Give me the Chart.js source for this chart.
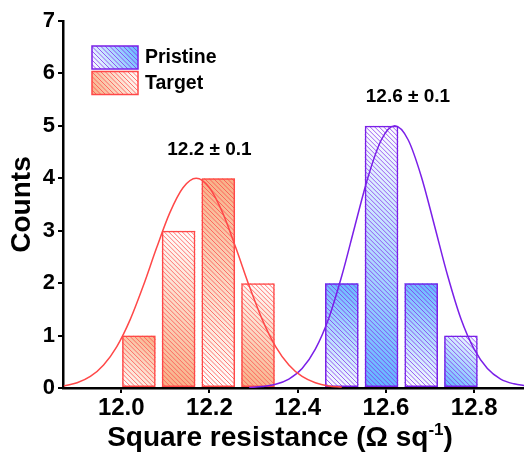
<!DOCTYPE html>
<html>
<head>
<meta charset="utf-8">
<script src="https://cdn.jsdelivr.net/npm/chart.js@4.4.0/dist/chart.umd.min.js"></script>
<style>
  html, body { margin: 0; padding: 0; background: #fff; }
  #wrap { width: 524px; height: 454px; }
</style>
</head>
<body>
<div id="wrap"><canvas id="histChart" width="524" height="454"></canvas></div>
<script>
// histogram bins (centres) and counts
const targetBins = [12.04, 12.13, 12.22, 12.31];
const targetCounts = [1, 3, 4, 2];
const pristineBins = [12.50, 12.59, 12.68, 12.77];
const pristineCounts = [2, 5, 2, 1];

// fitted curves
const targetFitX = [11.87, 11.90, 11.93, 11.96, 11.99, 12.02, 12.05, 12.08, 12.11, 12.14, 12.17, 12.20,
  12.23, 12.26, 12.29, 12.32, 12.35, 12.38, 12.41, 12.44, 12.47, 12.50];
const targetFitY = [0.04, 0.10, 0.22, 0.44, 0.79, 1.30, 1.95, 2.67, 3.34, 3.82, 4.00, 3.82,
  3.34, 2.67, 1.95, 1.30, 0.79, 0.44, 0.22, 0.10, 0.04, 0.02];
const pristineFitX = [12.29, 12.32, 12.35, 12.38, 12.41, 12.44, 12.47, 12.50, 12.53, 12.56, 12.59, 12.62,
  12.65, 12.68, 12.71, 12.74, 12.77, 12.80, 12.83, 12.86, 12.89, 12.92];
const pristineFitY = [0.01, 0.03, 0.07, 0.17, 0.37, 0.74, 1.32, 2.14, 3.10, 4.04, 4.74, 5.00,
  4.74, 4.04, 3.10, 2.14, 1.32, 0.74, 0.37, 0.17, 0.08, 0.04];

const xTicks = [12.0, 12.2, 12.4, 12.6, 12.8];
const yTicks = [0, 1, 2, 3, 4, 5, 6, 7];

const seriesNames = ['Pristine', 'Target'];
const fitLabels = ['12.2 \u00b1 0.1', '12.6 \u00b1 0.1'];

const FONT = "'Liberation Sans', Arial, sans-serif";
const RED = '#ff4848';
const PURPLE = '#7a1fe8';

const targetShade = { tint: '#f7b086', hatch: 'rgba(255,72,72,0.75)' };
const pristineShade = { tint: '#62b6ff', hatch: 'rgba(128,40,236,0.75)' };

// gradient + diagonal hatching inside a rectangle
function paintHatched(ctx, left, top, w, h, shade, tintTop) {
  ctx.save();
  ctx.beginPath();
  ctx.rect(left, top, w, h);
  ctx.clip();
  const g = ctx.createLinearGradient(left + w, top, left, top + h);
  if (tintTop) {
    g.addColorStop(0, shade.tint);
    g.addColorStop(1, '#ffffff');
  } else {
    g.addColorStop(0, '#ffffff');
    g.addColorStop(1, shade.tint);
  }
  ctx.fillStyle = g;
  ctx.fillRect(left, top, w, h);
  ctx.strokeStyle = shade.hatch;
  ctx.lineWidth = 1;
  ctx.beginPath();
  for (let k = -h; k < w + h; k += 4.5) {
    ctx.moveTo(left + k, top);
    ctx.lineTo(left + k + h, top + h);
  }
  ctx.stroke();
  ctx.restore();
}

const barFill = {
  id: 'barFill',
  beforeDatasetDraw(chart, args) {
    const ds = chart.data.datasets[args.index];
    if (!ds.shade) return;
    args.meta.data.forEach((bar, i) => {
      const p = bar.getProps(['x', 'y', 'base', 'width'], true);
      paintHatched(chart.ctx, p.x - p.width / 2, p.y, p.width, p.base - p.y, ds.shade, i % 2 === 0);
    });
  }
};

const extras = {
  id: 'extras',
  afterDraw(chart) {
    const ctx = chart.ctx;
    const area = chart.chartArea;
    const xs = chart.scales.x, ys = chart.scales.y;
    ctx.save();

    // legend
    const items = [
      { name: seriesNames[0], shade: pristineShade, border: PURPLE, tintTop: true },
      { name: seriesNames[1], shade: targetShade, border: RED, tintTop: false }
    ];
    items.forEach((it, i) => {
      const bx = area.left + 29, by = area.top + 25 + i * 25.5;
      paintHatched(ctx, bx, by, 46, 23, it.shade, it.tintTop);
      ctx.strokeStyle = it.border;
      ctx.lineWidth = 1.5;
      ctx.strokeRect(bx, by, 46, 23);
      ctx.fillStyle = '#000';
      ctx.font = 'bold 19.5px ' + FONT;
      ctx.textAlign = 'left';
      ctx.textBaseline = 'middle';
      ctx.fillText(it.name, bx + 53, by + 12);
    });

    // fit annotations
    ctx.font = 'bold 19px ' + FONT;
    ctx.textAlign = 'center';
    ctx.textBaseline = 'middle';
    ctx.fillText(fitLabels[0], xs.getPixelForValue(12.2), ys.getPixelForValue(4.54));
    ctx.fillText(fitLabels[1], xs.getPixelForValue(12.65), ys.getPixelForValue(5.55));

    // y title
    ctx.save();
    ctx.translate(22, (area.top + area.bottom) / 2);
    ctx.rotate(-Math.PI / 2);
    ctx.font = 'bold 28px ' + FONT;
    ctx.fillText('Counts', 0, 0);
    ctx.restore();

    // x title with superscript
    const main = 'Square resistance (\u03a9 sq';
    const sup = '-1';
    const close = ')';
    ctx.font = 'bold 28px ' + FONT;
    const w1 = ctx.measureText(main).width;
    const w3 = ctx.measureText(close).width;
    ctx.font = 'bold 17px ' + FONT;
    const w2 = ctx.measureText(sup).width;
    const total = w1 + w2 + w3;
    let tx = 280 - total / 2;
    const base = 446;
    ctx.textAlign = 'left';
    ctx.textBaseline = 'alphabetic';
    ctx.font = 'bold 28px ' + FONT;
    ctx.fillText(main, tx, base);
    tx += w1;
    ctx.font = 'bold 17px ' + FONT;
    ctx.fillText(sup, tx, base - 11);
    tx += w2;
    ctx.font = 'bold 28px ' + FONT;
    ctx.fillText(close, tx, base);
    ctx.restore();
  }
};

const toXY = (xs, ys) => xs.map((x, i) => ({ x: x, y: ys[i] }));

new Chart(document.getElementById('histChart'), {
  type: 'bar',
  data: {
    datasets: [
      {
        type: 'line',
        data: toXY(targetFitX, targetFitY),
        borderColor: RED,
        borderWidth: 1.5,
        pointRadius: 0,
        cubicInterpolationMode: 'monotone',
        fill: false,
        order: 0
      },
      {
        type: 'line',
        data: toXY(pristineFitX, pristineFitY),
        borderColor: PURPLE,
        borderWidth: 1.5,
        pointRadius: 0,
        cubicInterpolationMode: 'monotone',
        fill: false,
        order: 0
      },
      {
        type: 'bar',
        label: seriesNames[1],
        data: toXY(targetBins, targetCounts),
        backgroundColor: 'rgba(0,0,0,0)',
        borderColor: RED,
        borderWidth: 1.5,
        borderSkipped: false,
        grouped: false,
        barPercentage: 0.845,
        categoryPercentage: 1,
        shade: targetShade,
        order: 1
      },
      {
        type: 'bar',
        label: seriesNames[0],
        data: toXY(pristineBins, pristineCounts),
        backgroundColor: 'rgba(0,0,0,0)',
        borderColor: PURPLE,
        borderWidth: 1.5,
        borderSkipped: false,
        grouped: false,
        barPercentage: 0.845,
        categoryPercentage: 1,
        shade: pristineShade,
        order: 1
      }
    ]
  },
  options: {
    responsive: false,
    animation: false,
    devicePixelRatio: 1,
    layout: { padding: { top: 21, left: 0, right: 0, bottom: 0 } },
    plugins: {
      legend: { display: false },
      tooltip: { enabled: false }
    },
    scales: {
      x: {
        type: 'linear',
        min: 11.868,
        max: 12.913,
        offset: false,
        z: 1,
        afterBuildTicks: s => { s.ticks = xTicks.map(v => ({ value: v })); },
        afterFit: s => { s.height = 66; },
        ticks: {
          autoSkip: false,
          maxRotation: 0,
          includeBounds: false,
          padding: 1,
          color: '#000',
          font: { family: FONT, size: 24, weight: 'bold' },
          callback: v => Number(v).toFixed(1)
        },
        grid: { offset: false, drawOnChartArea: false, drawTicks: true, tickLength: 5, color: '#000', lineWidth: 2 },
        border: { display: true, color: '#000', width: 2.5 }
      },
      y: {
        min: 0,
        max: 7,
        z: 1,
        afterBuildTicks: s => { s.ticks = yTicks.map(v => ({ value: v })); },
        afterFit: s => { s.width = 63; },
        ticks: {
          padding: 3,
          color: '#000',
          font: { family: FONT, size: 22, weight: 'bold' }
        },
        grid: { offset: false, drawOnChartArea: false, drawTicks: true, tickLength: 5, color: '#000', lineWidth: 2 },
        border: { display: true, color: '#000', width: 2.5 }
      }
    }
  },
  plugins: [barFill, extras]
});
</script>
</body>
</html>
